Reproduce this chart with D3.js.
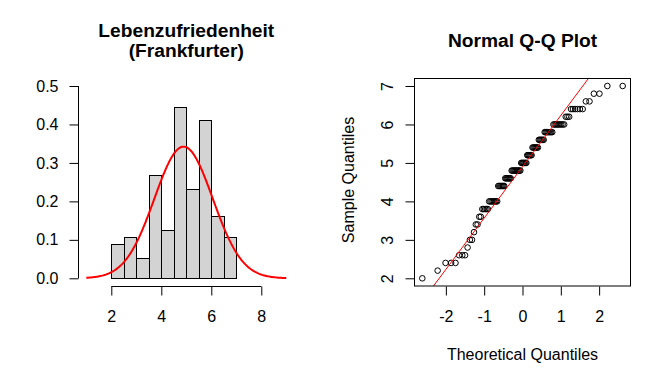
<!DOCTYPE html>
<html>
<head>
<meta charset="utf-8">
<script src="https://cdn.jsdelivr.net/npm/d3@7.9.0/dist/d3.min.js"></script>
<style>
  body { margin: 0; background: #fff; }
  svg { display: block; font-family: "Liberation Sans", Arial, sans-serif; }
  .tick text { font-size: 16px; fill: #000; }
</style>
</head>
<body>
<svg id="chart" width="672" height="384"></svg>
<script>
// histogram: bin edges and counts (n = 112)
const breaks = [2, 2.5, 3, 3.5, 4, 4.5, 5, 5.5, 6, 6.5, 7];
const counts = [5, 6, 3, 15, 7, 25, 13, 23, 9, 6];
const histXTicks = [2, 4, 6, 8];
const histYTicks = [0, 0.1, 0.2, 0.3, 0.4, 0.5];

// Q-Q plot: observed values and how often each occurs
const levels = [2.0, 2.2, 2.4, 2.6, 2.8, 3.0, 3.2, 3.4, 3.6, 3.8, 4.0, 4.4, 4.6, 4.8, 5.0, 5.2, 5.4, 5.6, 5.8, 6.0, 6.2, 6.4, 6.6, 6.8, 7.0];
const levelCounts = [1, 1, 3, 3, 1, 2, 1, 2, 2, 5, 8, 7, 7, 11, 7, 6, 7, 6, 8, 9, 3, 6, 2, 2, 2];
const qqXTicks = [-2, -1, 0, 1, 2];
const qqYTicks = [2, 3, 4, 5, 6, 7];

const svg = d3.select('#chart');

// inverse normal cdf (Acklam)
function qnorm(p) {
  const a = [-3.969683028665376e+01, 2.209460984245205e+02, -2.759285104469687e+02, 1.383577518672690e+02, -3.066479806614716e+01, 2.506628277459239e+00];
  const b = [-5.447609879822406e+01, 1.615858368580409e+02, -1.556989798598866e+02, 6.680131188771972e+01, -1.328068155288572e+01];
  const c = [-7.784894002430293e-03, -3.223964580411365e-01, -2.400758277161838e+00, -2.549732539343734e+00, 4.374664141464968e+00, 2.938163982698783e+00];
  const d = [7.784695709041462e-03, 3.224671290700398e-01, 2.445134137142996e+00, 3.754408661907416e+00];
  const pl = 0.02425;
  if (p < pl) {
    const q = Math.sqrt(-2 * Math.log(p));
    return (((((c[0]*q+c[1])*q+c[2])*q+c[3])*q+c[4])*q+c[5]) / ((((d[0]*q+d[1])*q+d[2])*q+d[3])*q+1);
  }
  if (p > 1 - pl) {
    const q = Math.sqrt(-2 * Math.log(1 - p));
    return -(((((c[0]*q+c[1])*q+c[2])*q+c[3])*q+c[4])*q+c[5]) / ((((d[0]*q+d[1])*q+d[2])*q+d[3])*q+1);
  }
  const q = p - 0.5, r = q * q;
  return (((((a[0]*r+a[1])*r+a[2])*r+a[3])*r+a[4])*r+a[5])*q / (((((b[0]*r+b[1])*r+b[2])*r+b[3])*r+b[4])*r+1);
}

const sample = levels.flatMap((v, i) => d3.range(levelCounts[i]).map(() => v));
const n = sample.length;
const mu = d3.mean(sample);
const sd = d3.deviation(sample);

// ---------- histogram ----------
const hx = d3.scaleLinear().domain([0.68, 9.32]).range([78.3, 294.3]);
const hy = d3.scaleLinear().domain([-0.02, 0.52]).range([286, 78.3]);

const bins = counts.map((c, i) => ({ x0: breaks[i], x1: breaks[i + 1], dens: c / (n * (breaks[i + 1] - breaks[i])) }));

svg.append('g').selectAll('rect')
  .data(bins)
  .join('rect')
  .attr('x', d => Math.round(hx(d.x0)) + 0.5)
  .attr('y', d => Math.round(hy(d.dens)) + 0.5)
  .attr('width', d => Math.round(hx(d.x1)) - Math.round(hx(d.x0)))
  .attr('height', d => Math.round(hy(0)) - Math.round(hy(d.dens)))
  .attr('fill', '#d3d3d3')
  .attr('stroke', '#000')
  .attr('stroke-width', 1);

const dnorm = x => Math.exp(-0.5 * ((x - mu) / sd) ** 2) / (sd * Math.sqrt(2 * Math.PI));
const curveX = d3.range(1, 9.0001, 0.04);
svg.append('path')
  .datum(curveX)
  .attr('d', d3.line().x(x => hx(x)).y(x => hy(dnorm(x))))
  .attr('fill', 'none')
  .attr('stroke', '#ff0000')
  .attr('stroke-width', 2);

const hxAxis = svg.append('g')
  .attr('transform', 'translate(0,286.5)')
  .call(d3.axisBottom(hx).tickValues(histXTicks).tickFormat(d3.format('d')).tickSizeOuter(0).tickSize(9).tickPadding(15));
hxAxis.select('.domain').attr('d', `M${hx(2)},0H${hx(8)}`);

const hyAxis = svg.append('g')
  .attr('transform', 'translate(78.5,0)')
  .call(d3.axisLeft(hy).tickValues(histYTicks).tickFormat(d3.format('.1f')).tickSizeOuter(0).tickSize(9).tickPadding(11));
hyAxis.select('.domain').attr('d', `M0,${hy(0)}V${hy(0.5)}`);

svg.append('text')
  .attr('x', 186.3).attr('y', 36.7)
  .attr('text-anchor', 'middle')
  .attr('font-size', 19.2).attr('font-weight', 'bold')
  .text('Lebenzufriedenheit');
svg.append('text')
  .attr('x', 186.3).attr('y', 56.7)
  .attr('text-anchor', 'middle')
  .attr('font-size', 19.2).attr('font-weight', 'bold')
  .text('(Frankfurter)');

// ---------- normal Q-Q plot ----------
const theo = sample.map((v, i) => qnorm((i + 1 - 0.5) / n));
const tMax = d3.max(theo.map(Math.abs));
const qx = d3.scaleLinear().domain([-tMax * 1.08, tMax * 1.08]).range([414.3, 630.7]);
const qy = d3.scaleLinear().domain([1.8, 7.2]).range([286, 78.3]);

svg.append('clipPath').attr('id', 'qqclip')
  .append('rect').attr('x', 414.5).attr('y', 78.5).attr('width', 216).attr('height', 207.5);

svg.append('g').selectAll('circle')
  .data(sample)
  .join('circle')
  .attr('cx', (v, i) => qx(theo[i]))
  .attr('cy', v => qy(v))
  .attr('r', 2.8)
  .attr('fill', 'none')
  .attr('stroke', '#000')
  .attr('stroke-width', 1);

// qqline through the quartiles
const q1 = d3.quantileSorted(sample, 0.25), q3 = d3.quantileSorted(sample, 0.75);
const slope = (q3 - q1) / (qnorm(0.75) - qnorm(0.25));
const icpt = q1 - slope * qnorm(0.25);
svg.append('line')
  .attr('clip-path', 'url(#qqclip)')
  .attr('x1', qx(-4)).attr('y1', qy(icpt + slope * -4))
  .attr('x2', qx(4)).attr('y2', qy(icpt + slope * 4))
  .attr('stroke', '#ff0000')
  .attr('stroke-width', 1);

svg.append('rect')
  .attr('x', 414.5).attr('y', 78.5).attr('width', 216).attr('height', 207.5)
  .attr('fill', 'none').attr('stroke', '#000').attr('stroke-width', 1);

const qxAxis = svg.append('g')
  .attr('transform', 'translate(0,286.5)')
  .call(d3.axisBottom(qx).tickValues(qqXTicks).tickFormat(d3.format('d')).tickSizeOuter(0).tickSize(9).tickPadding(15));
qxAxis.select('.domain').remove();
qxAxis.selectAll('text').text(d => d < 0 ? '-' + Math.abs(d) : d);

const qyAxis = svg.append('g')
  .attr('transform', 'translate(414.5,0)')
  .call(d3.axisLeft(qy).tickValues(qqYTicks).tickFormat(d3.format('d')).tickSizeOuter(0).tickSize(9));
qyAxis.select('.domain').remove();
qyAxis.selectAll('.tick text')
  .attr('x', null).attr('dy', null)
  .attr('text-anchor', 'middle')
  .attr('transform', 'translate(-22,0) rotate(-90)');

svg.append('text')
  .attr('x', 522.5).attr('y', 46.7)
  .attr('text-anchor', 'middle')
  .attr('font-size', 19.2).attr('font-weight', 'bold')
  .text('Normal Q-Q Plot');

svg.append('text')
  .attr('x', 522.5).attr('y', 360)
  .attr('text-anchor', 'middle')
  .attr('font-size', 16)
  .text('Theoretical Quantiles');

svg.append('text')
  .attr('transform', 'translate(354,180) rotate(-90)')
  .attr('text-anchor', 'middle')
  .attr('font-size', 16)
  .text('Sample Quantiles');
</script>
</body>
</html>
